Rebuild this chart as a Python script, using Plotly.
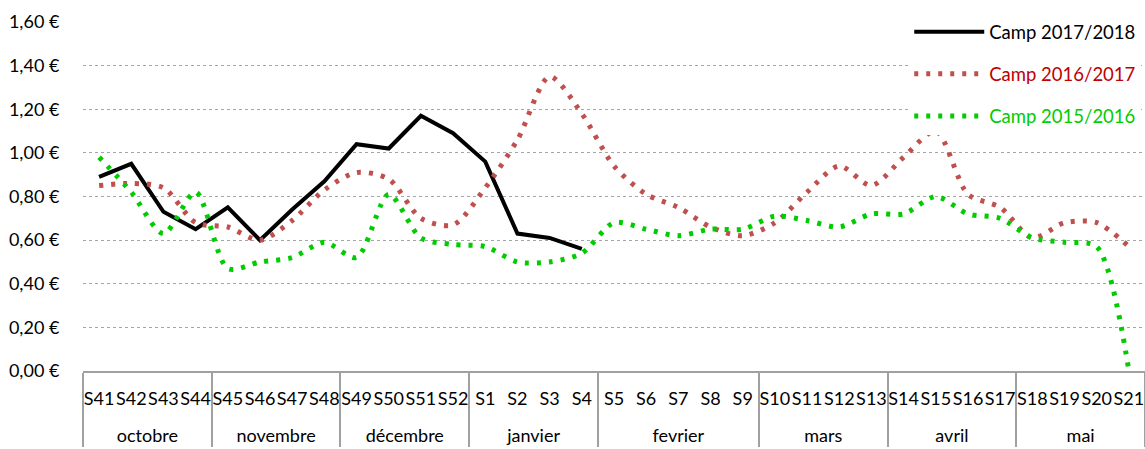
import plotly.graph_objects as go

weeks = ["S41","S42","S43","S44","S45","S46","S47","S48","S49","S50","S51","S52",
         "S1","S2","S3","S4","S5","S6","S7","S8","S9","S10","S11","S12","S13",
         "S14","S15","S16","S17","S18","S19","S20","S21"]
months = (["octobre"]*4 + ["novembre"]*4 + ["décembre"]*4 + ["janvier"]*4 +
          ["fevrier"]*5 + ["mars"]*4 + ["avril"]*4 + ["mai"]*4)

camp_2017_2018 = [0.89,0.95,0.73,0.65,0.75,0.60,0.74,0.87,1.04,1.02,1.17,1.09,
                  0.96,0.63,0.61,0.56]
camp_2016_2017 = [0.85,0.86,0.84,0.68,0.66,0.60,0.69,0.83,0.91,0.88,0.70,0.67,
                  0.84,1.06,1.35,1.18,0.94,0.81,0.75,0.66,0.62,0.68,0.82,0.94,0.85,
                  0.98,1.10,0.81,0.75,0.61,0.68,0.68,0.57]
camp_2015_2016 = [0.98,0.82,0.63,0.82,0.47,0.50,0.52,0.59,0.52,0.81,0.61,0.58,
                  0.57,0.50,0.50,0.54,0.68,0.65,0.62,0.65,0.65,0.71,0.69,0.66,0.72,
                  0.72,0.80,0.72,0.70,0.61,0.59,0.57,0.00]

y_ticks = [0, 0.2, 0.4, 0.6, 0.8, 1.0, 1.2, 1.4, 1.6]
y_ticktext = [f"{v:.2f}".replace(".", ",") + " €" for v in y_ticks]

# month row is pushed down one line, as in the reference table layout
month_labels = ["<br>" + m for m in months]

fig = go.Figure()
fig.add_trace(go.Scatter(
    x=[month_labels[:len(camp_2017_2018)], weeks[:len(camp_2017_2018)]], y=camp_2017_2018,
    mode="lines", name="Camp 2017/2018", legendgroup="a",
    line=dict(color="#000000", width=4)))
fig.add_trace(go.Scatter(
    x=[month_labels, weeks], y=camp_2016_2017,
    mode="lines", name="<span style='color:#C00000'>Camp 2016/2017</span>", legendgroup="b",
    line=dict(color="#C0504D", width=5, dash="4px,8px", shape="spline", smoothing=0.8)))
fig.add_trace(go.Scatter(
    x=[month_labels, weeks], y=camp_2015_2016,
    mode="lines", name="<span style='color:#00CC00'>Camp 2015/2016</span>", legendgroup="c",
    line=dict(color="#00CC00", width=5, dash="4px,8px", shape="spline", smoothing=0.8)))

fig.update_layout(
    width=1145, height=449,
    margin=dict(l=83, r=0, t=22, b=78),
    paper_bgcolor="white", plot_bgcolor="white",
    font=dict(family="Lato, Open Sans, sans-serif", size=18, color="#000000"),
    legend=dict(x=0.778, y=1.025, xanchor="left", yanchor="top",
                bgcolor="rgba(255,255,255,1)", font=dict(size=18.5),
                itemwidth=70, tracegroupgap=15, traceorder="grouped"),
)
fig.update_xaxes(
    type="multicategory", range=[-0.5, 32.5], automargin=False,
    showline=True, linecolor="#A0A0A0", linewidth=2,
    showdividers=True, dividercolor="#A0A0A0", dividerwidth=2,
    ticks="", ticklabelstandoff=10,
    tickangle=0, tickfont=dict(size=18), showgrid=False)
fig.update_yaxes(
    range=[0, 1.6], tickvals=y_ticks, ticktext=y_ticktext, automargin=False,
    showgrid=True, gridcolor="#A6A6A6", griddash="dot", gridwidth=1,
    zeroline=False, showline=False,
    ticks="outside", ticklen=19, tickcolor="rgba(0,0,0,0)", tickfont=dict(size=18))

fig.write_html("out.html", config={"displayModeBar": False},
               post_script="document.body.style.margin='0';")
